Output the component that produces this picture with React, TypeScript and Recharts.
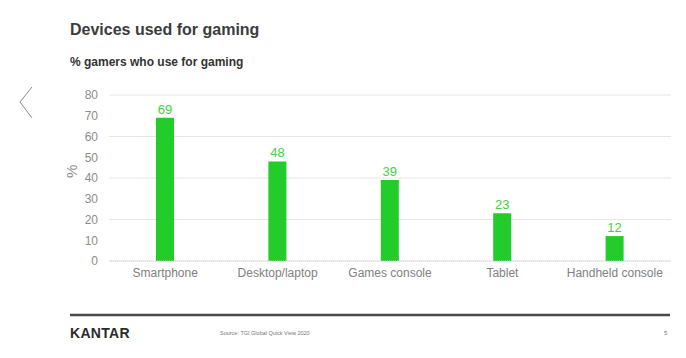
import { BarChart, Bar, XAxis, YAxis, CartesianGrid, LabelList } from "recharts"

const devices = ["Smartphone", "Desktop/laptop", "Games console", "Tablet", "Handheld console"]
const share = [69, 48, 39, 23, 12]
const yTicks = [0, 10, 20, 30, 40, 50, 60, 70, 80]

const data = devices.map((name, i) => ({ name, value: share[i] }))

const font = "'Liberation Sans', Arial, sans-serif"

export default function App() {
  return (
    <div style={{ position: "absolute", left: 0, top: 0, width: 686, height: 358, background: "#fff", fontFamily: font }}>
      <div style={{ position: "absolute", left: 70, top: 21, fontSize: 16, fontWeight: 700, color: "#3c3c3c" }}>
        Devices used for gaming
      </div>
      <div style={{ position: "absolute", left: 70, top: 55, fontSize: 12, fontWeight: 700, color: "#333" }}>
        % gamers who use for gaming
      </div>

      <svg style={{ position: "absolute", left: 0, top: 0 }} width={686} height={358}>
        <polyline points="32,87 20,102 32,118" fill="none" stroke="#8a8a8a" strokeWidth={1} />
        <line x1={70} y1={315} x2={670} y2={315} stroke="#4a4a4a" strokeWidth={2.5} />
      </svg>

      <div style={{ position: "absolute", left: 0, top: 0 }}>
        <BarChart width={686} height={358} data={data} margin={{ top: 95, right: 15, left: 49, bottom: 67 }}>
          <CartesianGrid vertical={false} stroke="#e6e6e6" />
          <XAxis
            dataKey="name"
            height={30}
            tickLine={false}
            axisLine={{ stroke: "#d4d4d4", strokeDasharray: "1 1" }}
            tickMargin={1}
            tick={{ fill: "#808080", fontSize: 12, fontFamily: font }}
            interval={0}
          />
          <YAxis
            width={60}
            domain={[0, 80]}
            ticks={yTicks}
            tickLine={false}
            axisLine={false}
            tickMargin={5}
            tick={{ fill: "#8c8c8c", fontSize: 12, fontFamily: font }}
            label={{ value: "%", angle: -90, position: "insideLeft", offset: 23, fill: "#8c8c8c", fontSize: 15, fontFamily: font }}
          />
          <Bar dataKey="value" fill="#21cc2b" barSize={18} isAnimationActive={false}>
            <LabelList dataKey="value" position="top" offset={4} fill="#45d045" fontSize={13} fontFamily={font} />
          </Bar>
        </BarChart>
      </div>

      <div style={{ position: "absolute", left: 70, top: 325, fontSize: 14, fontWeight: 700, color: "#2b2b2b", letterSpacing: 0.3 }}>
        KANTAR
      </div>
      <div style={{ position: "absolute", left: 220, top: 330, fontSize: 5.5, color: "#777" }}>
        Source: TGI Global Quick View 2020
      </div>
      <div style={{ position: "absolute", left: 664, top: 330, fontSize: 6, color: "#777" }}>
        5
      </div>
    </div>
  )
}
